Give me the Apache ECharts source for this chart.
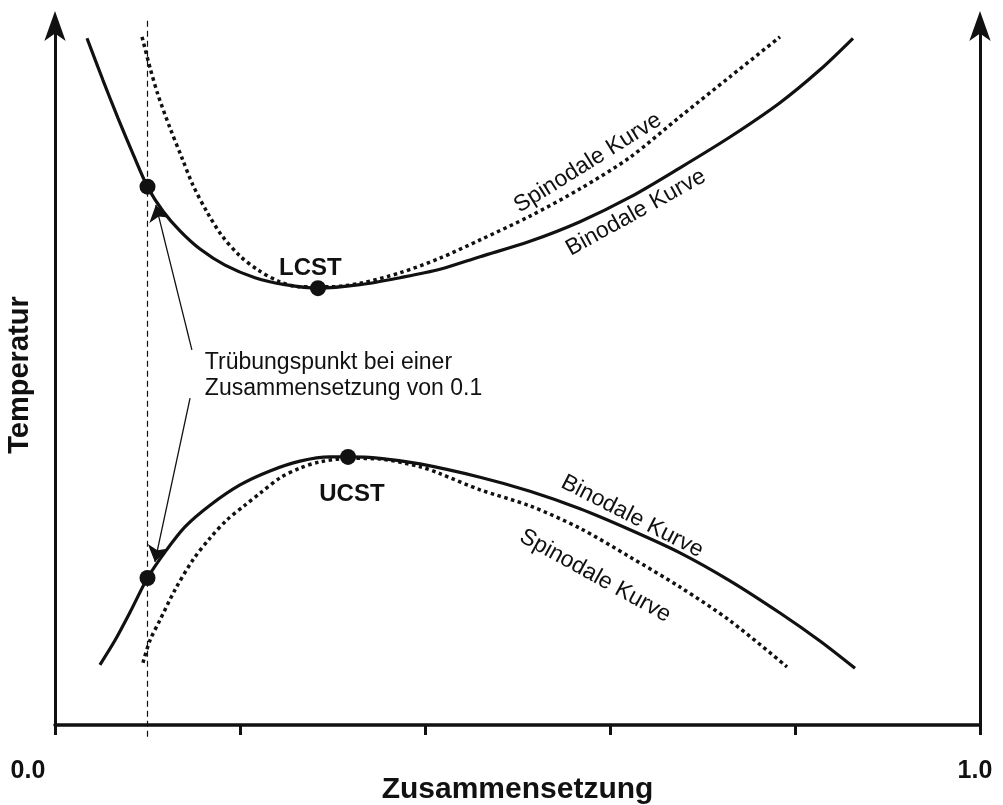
<!DOCTYPE html>
<html>
<head>
<meta charset="utf-8">
<title>LCST / UCST Phasendiagramm</title>
<script src="https://cdn.jsdelivr.net/npm/echarts@6/dist/echarts.min.js"></script>
<style>
  html, body { margin: 0; padding: 0; background: #ffffff; }
  #chart { width: 1003px; height: 805px; }
</style>
</head>
<body>
<div id="chart"></div>
<script>
// Composition axis ticks (volume fraction of polymer)
const xTicks = [0.0, 0.2, 0.4, 0.6, 0.8, 1.0];
const xTickLabels = ['0.0', '', '', '', '', '1.0'];

// Upper branch (LCST): binodal and spinodal curves, composition / temperature
const lcstBinodalX = [0.0346, 0.0519, 0.0681, 0.0843, 0.100, 0.1168, 0.1351, 0.1568, 0.1838, 0.2162, 0.2486, 0.2843,
  0.3297, 0.3730, 0.4162, 0.4595, 0.5135, 0.5676, 0.6216, 0.6757, 0.7297, 0.7838, 0.8270, 0.8627];
const lcstBinodalT = [98.1, 92.1, 86.7, 81.6, 76.9, 73.4, 70.6, 68.0, 65.7, 63.9, 62.9, 62.4,
  62.9, 63.9, 65.1, 66.9, 69.1, 71.9, 75.4, 79.6, 84.0, 88.9, 93.6, 98.1];
const lcstSpinodalX = [0.0941, 0.1027, 0.1114, 0.1243, 0.1373, 0.1492, 0.1643, 0.1805, 0.2000, 0.2195, 0.2432, 0.2649,
  0.2973, 0.3297, 0.3730, 0.4162, 0.4595, 0.5135, 0.5676, 0.6216, 0.6757, 0.7297, 0.7838];
const lcstSpinodalT = [98.3, 93.9, 90.0, 85.3, 81.0, 77.1, 73.3, 69.9, 67.0, 65.0, 63.3, 62.6,
  62.6, 63.1, 64.6, 66.7, 69.3, 72.7, 76.6, 81.1, 86.9, 92.6, 98.3];

// Lower branch (UCST): binodal and spinodal curves
const ucstBinodalX = [0.0486, 0.0649, 0.0811, 0.100, 0.1189, 0.1405, 0.1676, 0.2000, 0.2324, 0.2649, 0.2973, 0.3168,
  0.3514, 0.3946, 0.4595, 0.5135, 0.5676, 0.6216, 0.6757, 0.7297, 0.7838, 0.8270, 0.8649];
const ucstBinodalT = [8.6, 12.1, 16.1, 21.0, 24.7, 28.3, 31.4, 34.3, 36.3, 37.7, 38.3, 38.3,
  38.1, 37.3, 35.4, 33.4, 30.9, 27.9, 24.6, 20.6, 16.0, 12.0, 8.1];
const ucstSpinodalX = [0.0951, 0.1027, 0.1135, 0.1297, 0.1492, 0.1676, 0.1859, 0.2054, 0.2216, 0.2432, 0.2649, 0.2865,
  0.3189, 0.3514, 0.3946, 0.4162, 0.4595, 0.5135, 0.5676, 0.6216, 0.6757, 0.7297, 0.7914];
const ucstSpinodalT = [8.9, 12.1, 15.0, 19.3, 23.6, 26.7, 29.3, 31.4, 33.1, 35.3, 36.7, 37.6,
  38.1, 38.0, 36.9, 35.9, 33.6, 31.3, 28.1, 24.0, 19.7, 14.9, 8.3];

// Critical points (LCST, UCST) and the two cloud points at composition 0.1
const markerX = [0.2843, 0.3168, 0.100, 0.100];
const markerT = [62.4, 38.3, 76.9, 21.0];

// Composition of the cloud-point example
const cloudComposition = 0.1;

const FONT = "'Liberation Sans', Arial, Helvetica, sans-serif";
const INK = '#111111';

const zip = (xs, ys) => xs.map((x, i) => [x, ys[i]]);

// Text annotations placed in data coordinates
const annotations = [
  { value: [0.276, 65.3], text: 'LCST', bold: true, size: 24, rotate: 0 },
  { value: [0.321, 32.9], text: 'UCST', bold: true, size: 24, rotate: 0 },
  { value: [0.576, 80.3], text: 'Spinodale Kurve', size: 23, rotate: 32 },
  { value: [0.628, 73.2], text: 'Binodale Kurve', size: 23, rotate: 29 },
  { value: [0.624, 29.8], text: 'Binodale Kurve', size: 23, rotate: -27 },
  { value: [0.584, 21.3], text: 'Spinodale Kurve', size: 23, rotate: -29 }
];

// Arrows from the explanatory note to the two cloud points
const arrowLines = [
  [[0.148, 53.6], [0.109, 74.3]],
  [[0.146, 46.7], [0.108, 23.3]]
];

const chart = echarts.init(document.getElementById('chart'), null, { renderer: 'canvas' });

const yAxisBase = {
  type: 'value',
  min: 0,
  max: 100,
  axisLine: {
    show: true,
    onZero: false,
    symbol: ['none', 'arrow'],
    symbolSize: [16, 30],
    symbolOffset: [0, 14],
    lineStyle: { color: INK, width: 3 }
  },
  axisTick: { show: false },
  axisLabel: { show: false },
  splitLine: { show: false }
};

const curveStyle = { color: INK, width: 3.2 };
const dottedStyle = { color: INK, width: 3.5, type: [3.5, 3.5], cap: 'butt' };

const option = {
  animation: false,
  backgroundColor: '#ffffff',
  grid: { left: 55, right: 23, top: 25, bottom: 80, containLabel: false, outerBoundsMode: 'none' },
  xAxis: {
    type: 'value',
    min: 0,
    max: 1,
    interval: 0.2,
    name: 'Zusammensetzung',
    nameLocation: 'middle',
    nameGap: 50,
    nameMoveOverlap: false,
    nameTextStyle: { fontFamily: FONT, fontWeight: 'bold', fontSize: 30, color: INK },
    axisLine: { show: true, onZero: false, lineStyle: { color: INK, width: 3.5 } },
    axisTick: { show: true, inside: false, length: 10, lineStyle: { color: INK, width: 3 } },
    splitLine: { show: false },
    axisLabel: {
      margin: 34,
      formatter: function (v) {
        const idx = xTicks.findIndex(t => Math.abs(t - v) < 1e-9);
        const txt = idx >= 0 ? xTickLabels[idx] : '';
        if (!txt) return '';
        return idx === 0 ? '{first|' + txt + '}' : '{last|' + txt + '}';
      },
      rich: {
        first: { fontFamily: FONT, fontWeight: 'bold', fontSize: 25, color: INK, padding: [0, 54, 0, 0] },
        last: { fontFamily: FONT, fontWeight: 'bold', fontSize: 25, color: INK, padding: [0, 10, 0, 0] }
      }
    }
  },
  yAxis: [
    Object.assign({}, yAxisBase, {
      position: 'left',
      name: 'Temperatur',
      nameLocation: 'middle',
      nameGap: 21,
      nameMoveOverlap: false,
      nameTextStyle: { fontFamily: FONT, fontWeight: 'bold', fontSize: 29, color: INK }
    }),
    Object.assign({}, yAxisBase, { position: 'right' })
  ],
  series: [
    {
      name: 'Trübungspunkt-Zusammensetzung',
      type: 'line',
      clip: false,
      silent: true,
      symbol: 'none',
      data: [[cloudComposition, 100.6], [cloudComposition, -1.8]],
      lineStyle: { color: INK, width: 1.2, type: [6, 4] },
      z: 1
    },
    {
      name: 'Binodale Kurve (LCST)',
      type: 'line',
      smooth: 0.3,
      symbol: 'none',
      data: zip(lcstBinodalX, lcstBinodalT),
      lineStyle: curveStyle,
      z: 3
    },
    {
      name: 'Spinodale Kurve (LCST)',
      type: 'line',
      smooth: 0.3,
      symbol: 'none',
      data: zip(lcstSpinodalX, lcstSpinodalT),
      lineStyle: dottedStyle,
      z: 2
    },
    {
      name: 'Binodale Kurve (UCST)',
      type: 'line',
      smooth: 0.3,
      symbol: 'none',
      data: zip(ucstBinodalX, ucstBinodalT),
      lineStyle: curveStyle,
      z: 3
    },
    {
      name: 'Spinodale Kurve (UCST)',
      type: 'line',
      smooth: 0.3,
      symbol: 'none',
      data: zip(ucstSpinodalX, ucstSpinodalT),
      lineStyle: dottedStyle,
      z: 2
    },
    {
      name: 'Punkte',
      type: 'scatter',
      symbol: 'circle',
      symbolSize: 16,
      itemStyle: { color: INK, opacity: 1 },
      data: zip(markerX, markerT),
      z: 5
    },
    {
      name: 'Pfeile',
      type: 'lines',
      coordinateSystem: 'cartesian2d',
      symbol: ['none', 'arrow'],
      symbolSize: [8, 16],
      lineStyle: { color: INK, width: 1.3, opacity: 1 },
      data: arrowLines.map(c => ({ coords: c })),
      z: 4
    },
    {
      name: 'Hinweis',
      type: 'scatter',
      symbolSize: 0,
      silent: true,
      itemStyle: { opacity: 1 },
      data: [{ value: [0.162, 49.9] }],
      label: {
        show: true,
        position: 'right',
        distance: 0,
        formatter: 'Trübungspunkt bei einer\nZusammensetzung von 0.1',
        fontFamily: FONT,
        fontSize: 23,
        lineHeight: 26,
        color: INK,
        align: 'left'
      },
      z: 6
    },
    {
      name: 'Beschriftung',
      type: 'scatter',
      symbolSize: 0,
      silent: true,
      itemStyle: { opacity: 1 },
      data: annotations.map(a => ({
        value: a.value,
        label: {
          show: true,
          position: 'inside',
          formatter: a.text,
          rotate: a.rotate,
          fontFamily: FONT,
          fontWeight: a.bold ? 'bold' : 'normal',
          fontSize: a.size,
          color: INK
        }
      })),
      z: 6
    }
  ]
};

chart.setOption(option);
</script>
</body>
</html>
